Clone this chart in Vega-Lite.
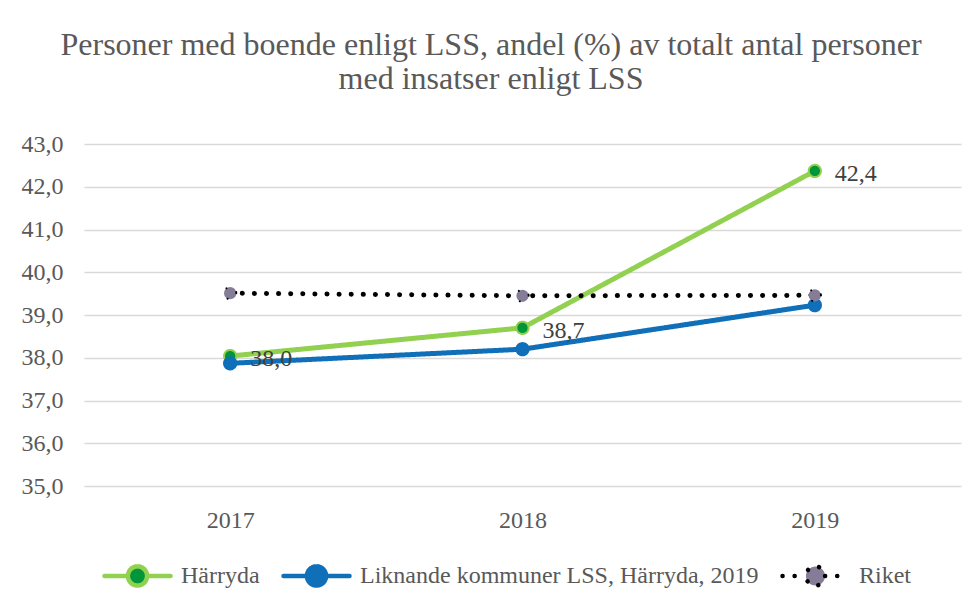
{
  "$schema": "https://vega.github.io/schema/vega-lite/v6.json",
  "width": 877,
  "height": 342,
  "autosize": {"type": "none"},
  "padding": {"left": 84, "top": 144, "right": 14, "bottom": 105},
  "background": "white",
  "title": {
    "text": ["Personer med boende enligt LSS, andel (%) av totalt antal personer", "med insatser enligt LSS"],
    "anchor": "middle",
    "frame": "bounds",
    "font": "Liberation Serif",
    "fontSize": 32,
    "fontWeight": "normal",
    "color": "#595959",
    "lineHeight": 34,
    "offset": 36
  },
  "config": {
    "font": "Liberation Serif",
    "view": {"stroke": null},
    "style": {"guide-label": {"font": "Liberation Serif"}},
    "legend": {
      "labelFont": "Liberation Serif",
      "labelFontSize": 24,
      "labelColor": "#595959",
      "labelLimit": 0
    },
    "locale": {
      "number": {"decimal": ",", "thousands": " ", "grouping": [3], "currency": ["", " kr"]}
    }
  },
  "data": {
    "values": [
      {"year": "2017", "serie": "Härryda", "value": 38.04},
      {"year": "2018", "serie": "Härryda", "value": 38.7},
      {"year": "2019", "serie": "Härryda", "value": 42.37},
      {"year": "2017", "serie": "Liknande kommuner LSS, Härryda, 2019", "value": 37.87},
      {"year": "2018", "serie": "Liknande kommuner LSS, Härryda, 2019", "value": 38.2},
      {"year": "2019", "serie": "Liknande kommuner LSS, Härryda, 2019", "value": 39.23},
      {"year": "2017", "serie": "Riket", "value": 39.51},
      {"year": "2018", "serie": "Riket", "value": 39.45},
      {"year": "2019", "serie": "Riket", "value": 39.46}
    ]
  },
  "encoding": {
    "x": {
      "field": "year",
      "type": "ordinal",
      "scale": {"type": "point", "padding": 0.5},
      "axis": {
        "title": null,
        "labelAngle": 0,
        "labelFont": "Liberation Serif",
        "labelFontSize": 24,
        "labelColor": "#595959",
        "labelPadding": 22,
        "ticks": false,
        "domain": false,
        "grid": false
      }
    },
    "y": {
      "field": "value",
      "type": "quantitative",
      "scale": {"domain": [35, 43], "nice": false, "zero": false},
      "axis": {
        "title": null,
        "values": [35, 36, 37, 38, 39, 40, 41, 42, 43],
        "format": ".1f",
        "labelFont": "Liberation Serif",
        "labelFontSize": 24,
        "labelColor": "#595959",
        "labelPadding": 21,
        "ticks": false,
        "domain": false,
        "grid": true,
        "gridColor": "#d9d9d9",
        "gridWidth": 1.5
      }
    }
  },
  "layer": [
    {
      "mark": {"type": "line", "strokeWidth": 5, "strokeCap": "round", "strokeJoin": "round"},
      "encoding": {
        "stroke": {
          "field": "serie",
          "type": "nominal",
          "scale": {
            "domain": ["Härryda", "Liknande kommuner LSS, Härryda, 2019", "Riket"],
            "range": ["#92D050", "#0F6FB8", "#000000"]
          },
          "legend": {
            "title": null,
            "orient": "bottom",
            "direction": "horizontal",
            "labelFont": "Liberation Serif",
            "labelFontSize": 24,
            "labelColor": "#595959",
            "labelLimit": 0,
            "symbolType": "M-1,0H-0.29M0.29,0H1M0.29,0A0.29,0.29 0 1,1 -0.29,0A0.29,0.29 0 1,1 0.29,0Z",
            "symbolSize": 4356,
            "symbolStrokeWidth": 4.5,
            "labelOffset": 8,
            "columnPadding": 14,
            "padding": 18,
            "offset": -10,
            "encode": {
              "symbols": {"update": {"strokeCap": {"value": "round"}}},
              "labels": {"update": {"font": {"value": "Liberation Serif"}}}
            }
          }
        },
        "strokeDash": {
          "field": "serie",
          "type": "nominal",
          "scale": {
            "domain": ["Härryda", "Liknande kommuner LSS, Härryda, 2019", "Riket"],
            "range": [[1, 0], [1, 0], [0.1, 12]]
          }
        }
      }
    },
    {
      "mark": {"type": "point", "filled": true, "size": 150, "strokeWidth": 2, "strokeCap": "round", "opacity": 1},
      "encoding": {
        "fill": {
          "field": "serie",
          "type": "nominal",
          "scale": {
            "domain": ["Härryda", "Liknande kommuner LSS, Härryda, 2019", "Riket"],
            "range": ["#009639", "#0F6FB8", "#857C97"]
          }
        },
        "stroke": {"field": "serie", "type": "nominal"},
        "strokeDash": {"field": "serie", "type": "nominal"}
      }
    },
    {
      "transform": [{"filter": "datum.serie === 'Härryda'"}],
      "mark": {"type": "text", "align": "left", "baseline": "middle", "dx": 20, "dy": 3, "font": "Liberation Serif", "fontSize": 24, "color": "#404040"},
      "encoding": {
        "text": {"field": "value", "type": "quantitative", "format": ".1f"}
      }
    }
  ]
}
